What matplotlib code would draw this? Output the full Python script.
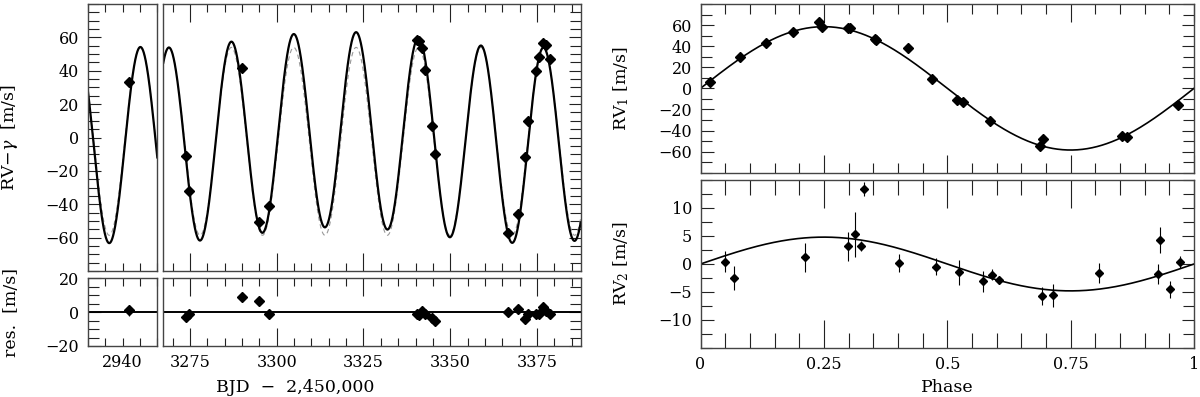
import numpy as np
import matplotlib
matplotlib.use('Agg')
import matplotlib.pyplot as plt
from matplotlib.ticker import MultipleLocator, FixedLocator, FuncFormatter

plt.rcParams['font.family'] = 'DejaVu Serif'
plt.rcParams['mathtext.fontset'] = 'dejavuserif'

# --- data ---
t_obs = [2941.8, 3273.8, 3274.8, 3290.0, 3294.8, 3297.8, 3340.3, 3340.9, 3341.8, 3342.6, 3344.7,
         3345.6, 3366.6, 3369.5, 3371.6, 3372.5, 3374.6, 3375.6, 3376.8, 3377.5, 3378.7]
rv_obs = [33.2, -11.2, -32.0, 41.8, -50.8, -41.2, 58.6, 57.8, 53.8, 40.2, 6.8,
          -10.0, -57.2, -45.8, -11.4, 9.8, 39.8, 48.2, 56.6, 55.2, 47.2]
res_obs = [1.0, -2.6, -1.0, 9.2, 6.4, -1.2, -1.2, -1.4, 0.6, -0.8, -3.4,
           -5.0, 0.0, 1.6, -3.8, -1.2, -0.8, -1.0, 3.2, 0.8, -1.2]
err_obs = [3.0, 2.0, 2.0, 1.5, 1.5, 2.0, 1.5, 1.5, 1.5, 1.5, 1.5,
           1.5, 1.5, 1.5, 2.0, 2.0, 1.5, 1.5, 1.5, 1.5, 1.5]

# fitted model parameters (two circular orbits + single-planet fit)
P1, K1, T1 = 17.99, 58.5, 3282.4
P2, K2, T2 = 108.9, 4.8, 3290.8
K1_single, off_single = 56.3, -2.3

# phase-folded panels
ph1 = [0.019, 0.080, 0.132, 0.188, 0.241, 0.247, 0.299, 0.302, 0.354, 0.356,
       0.420, 0.469, 0.520, 0.531, 0.586, 0.687, 0.694, 0.855, 0.865, 0.967]
rv1 = [6.4, 29.6, 43.0, 53.5, 62.7, 58.3, 57.0, 57.0, 46.8, 45.5,
       38.2, 8.9, -11.1, -13.1, -30.9, -54.5, -48.4, -45.2, -45.9, -15.6]

ph2 = [0.050, 0.067, 0.211, 0.298, 0.314, 0.325, 0.331, 0.402, 0.478, 0.523,
       0.572, 0.591, 0.605, 0.693, 0.714, 0.808, 0.928, 0.932, 0.952, 0.971]
rv2 = [0.4, -2.5, 1.2, 3.2, 5.3, 3.2, 13.4, 0.2, -0.5, -1.5,
       -3.1, -1.9, -2.9, -5.7, -5.6, -1.6, -1.8, 4.3, -4.5, 0.4]
err2 = [1.9, 2.2, 2.6, 2.6, 4.0, 0.9, 1.2, 1.6, 1.5, 2.3,
        1.9, 1.0, 0.6, 1.6, 2.0, 1.8, 1.8, 2.3, 1.5, 1.1]

W, H = 1200.0, 397.0


def box(x0, y0, x1, y1):
    return [x0 / W, 1 - y1 / H, (x1 - x0) / W, (y1 - y0) / H]


def model_two(t):
    return (K1 * np.sin(2 * np.pi * (t - T1) / P1)
            + K2 * np.sin(2 * np.pi * (t - T2) / P2))


def model_one(t):
    return K1_single * np.sin(2 * np.pi * (t - T1) / P1) + off_single


def style(ax, xmaj, xmin, ymaj, ymin, left=True, right=True, top=True, bottom=True):
    ax.tick_params(which='both', direction='in', left=left, right=right, top=top,
                   bottom=bottom, width=0.8, color='#222222', labelsize=11.5)
    ax.tick_params(axis='x', which='major', length=xmaj, pad=6)
    ax.tick_params(axis='x', which='minor', length=xmin)
    ax.tick_params(axis='y', which='major', length=ymaj, pad=6)
    ax.tick_params(axis='y', which='minor', length=ymin)
    for s in ax.spines.values():
        s.set_color('#444444')
        s.set_linewidth(1.0)


fig = plt.figure(figsize=(12, 3.97), dpi=100)

ax_a = fig.add_axes(box(87.5, 4, 157.3, 271))
ax_b = fig.add_axes(box(163.3, 4, 580.7, 271))
ax_ar = fig.add_axes(box(87.5, 278.3, 157.3, 346))
ax_br = fig.add_axes(box(163.3, 278.3, 580.7, 346))
ax_p1 = fig.add_axes(box(700.5, 4, 1194, 172.7))
ax_p2 = fig.add_axes(box(700.5, 180, 1194, 348))

xl_a = (2929.8, 2950.0)
xl_b = (3267.3, 3387.6)

for ax, xl in [(ax_a, xl_a), (ax_b, xl_b)]:
    tt = np.linspace(xl[0], xl[1], 2000)
    ax.plot(tt, model_one(tt), color='#999999', lw=0.8, dashes=(4, 3))
    ax.plot(tt, model_two(tt), color='k', lw=1.6)
    ax.plot(t_obs, rv_obs, 'kD', ms=5)
    ax.set_xlim(xl)
    ax.set_ylim(-80, 80)
    ax.yaxis.set_major_locator(FixedLocator([-60, -40, -20, 0, 20, 40, 60]))
    ax.yaxis.set_minor_locator(MultipleLocator(5))

for ax, xl in [(ax_ar, xl_a), (ax_br, xl_b)]:
    ax.axhline(0, color='k', lw=1.4)
    ax.errorbar(t_obs, res_obs, yerr=err_obs, fmt='D', color='k', ms=5,
                elinewidth=0.8, capsize=0)
    ax.set_xlim(xl)
    ax.set_ylim(-20, 20)
    ax.yaxis.set_major_locator(MultipleLocator(20))
    ax.yaxis.set_minor_locator(MultipleLocator(5))

# x ticks of the broken time axis
for ax in (ax_a, ax_ar):
    ax.xaxis.set_major_locator(FixedLocator([2940]))
    ax.xaxis.set_minor_locator(FixedLocator([2930, 2935, 2945, 2950]))
    style(ax, 6, 6, 9, 8, right=False)
for ax in (ax_b, ax_br):
    ax.xaxis.set_major_locator(MultipleLocator(25))
    ax.xaxis.set_minor_locator(MultipleLocator(5))
    style(ax, 13, 6, 9, 8, left=False)
    ax.tick_params(labelleft=False)
for ax in (ax_a, ax_b):
    ax.tick_params(labelbottom=False)

ax_a.set_ylabel(r'RV$-\gamma$  [m/s]', fontsize=12.5)
ax_a.yaxis.set_label_coords(-0.96, 0.5)
ax_ar.set_ylabel('res.  [m/s]', fontsize=12.5)
ax_ar.yaxis.set_label_coords(-0.96, 0.5)
fig.text(295 / W, 1 - 387 / H, 'BJD  \u2212  2,450,000', ha='center', va='center', fontsize=12.5)

# phase-folded panels
ph = np.linspace(0, 1, 500)
ax_p1.plot(ph, K1 * np.sin(2 * np.pi * ph), color='k', lw=1.2)
ax_p1.plot(ph1, rv1, 'kD', ms=5)
ax_p1.set_xlim(0, 1)
ax_p1.set_ylim(-80, 80)
ax_p1.yaxis.set_major_locator(FixedLocator([-60, -40, -20, 0, 20, 40, 60]))
ax_p1.yaxis.set_minor_locator(MultipleLocator(10))
ax_p1.xaxis.set_major_locator(MultipleLocator(0.25))
ax_p1.xaxis.set_minor_locator(MultipleLocator(0.05))
style(ax_p1, 13, 7, 9, 8)
ax_p1.tick_params(labelbottom=False)
ax_p1.set_ylabel(r'RV$_1$ [m/s]', fontsize=12.5)
ax_p1.yaxis.set_label_coords(-0.14, 0.5)

ax_p2.plot(ph, K2 * np.sin(2 * np.pi * ph), color='k', lw=1.2)
ax_p2.errorbar(ph2, rv2, yerr=err2, fmt='D', color='k', ms=4.5,
               elinewidth=0.8, capsize=0)
ax_p2.set_xlim(0, 1)
ax_p2.set_ylim(-15, 15)
ax_p2.yaxis.set_major_locator(FixedLocator([-10, -5, 0, 5, 10]))
ax_p2.yaxis.set_minor_locator(MultipleLocator(2.5))
ax_p2.xaxis.set_major_locator(MultipleLocator(0.25))
ax_p2.xaxis.set_minor_locator(MultipleLocator(0.05))
ax_p2.xaxis.set_major_formatter(FuncFormatter(lambda v, p: '%g' % v))
style(ax_p2, 20, 11, 9, 8)
ax_p2.set_ylabel(r'RV$_2$ [m/s]', fontsize=12.5)
ax_p2.yaxis.set_label_coords(-0.14, 0.5)
ax_p2.set_xlabel('Phase', fontsize=12.5, labelpad=4)

fig.savefig('out.png', dpi=100)
